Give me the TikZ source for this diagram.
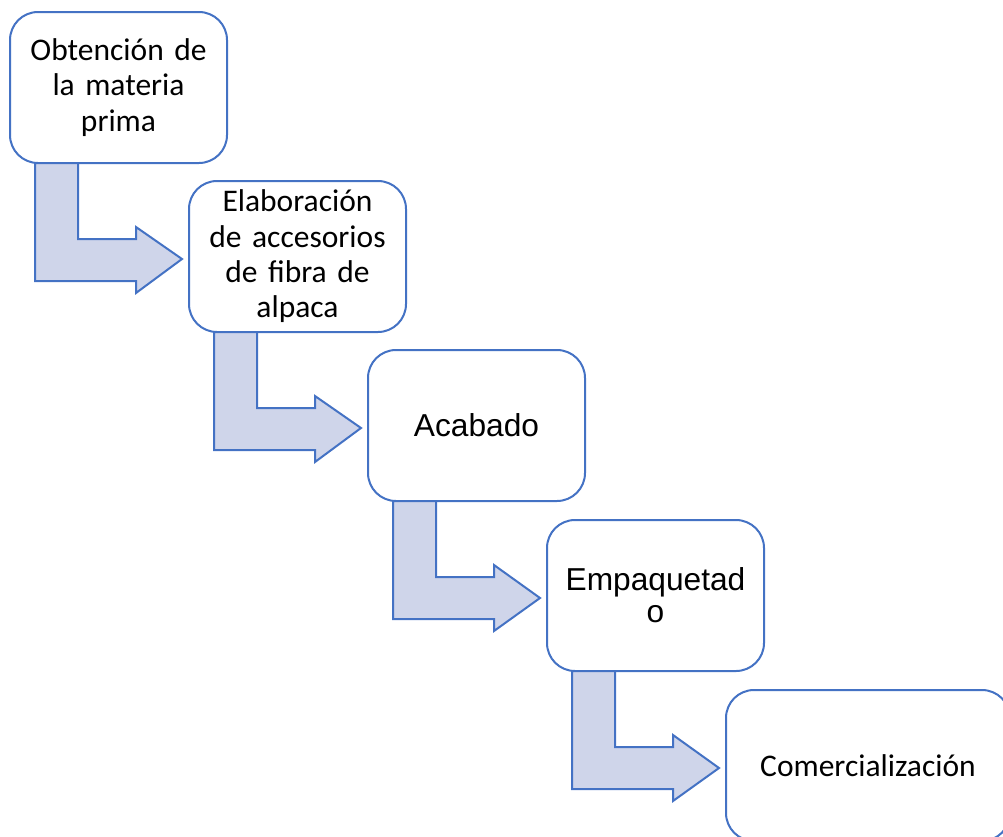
\documentclass[tikz,border=0pt]{standalone}
\usepackage{fontspec}
\setmainfont{Carlito}
\newfontfamily\arialfont{Liberation Sans}
\usetikzlibrary{calc}
\definecolor{edgeblue}{HTML}{4472C4}
\definecolor{arrowfill}{HTML}{CFD5EA}
\begin{document}
\begin{tikzpicture}[x=1pt,y=-1pt,
  stepbox/.style={draw=edgeblue, line width=2pt, fill=white, rounded corners=28pt,
    minimum width=217pt, minimum height=151pt, inner sep=0pt, outer sep=0pt,
    align=center, text width=205pt, font=\fontsize{31.5}{35.3}\selectfont},
  arialtext/.style={font=\arialfont\fontsize{31.7}{32}\selectfont},
  bent/.style={draw=edgeblue, line width=2pt, fill=arrowfill, line join=miter}]
\useasboundingbox (0,0) rectangle (1003,836);
\clip (0,0) rectangle (1003,836);
\node[stepbox] (b1) at (118.5,87.5) {Obtención de\\la materia\\prima};
\node[stepbox] (b2) at (297.5,256.5) {Elaboración\\de accesorios\\de fibra de\\alpaca};
\node[stepbox, arialtext] (b3) at (476.5,425.5) {Acabado};
\node[stepbox, arialtext] (b4) at (655.5,595.5) {Empaquetad\\o};
\node[stepbox, minimum width=284pt, text width=270pt] (b5) at (868,765.5) {Comercialización};
\foreach \a/\b in {b1/b2,b2/b3,b3/b4,b4/b5}
  \draw[bent] ($(\a.south west)+(25,0)$) -- ($(\a.south west)+(68,0)$)
    -- ($(\a.south west)+(68,76)$) -- ($(\a.south west)+(126,76)$)
    -- ($(\a.south west)+(126,64)$) -- ($(\b.west)+(-7,2.5)$)
    -- ($(\a.south west)+(126,130)$) -- ($(\a.south west)+(126,118)$)
    -- ($(\a.south west)+(25,118)$) -- cycle;
\end{tikzpicture}
\end{document}
